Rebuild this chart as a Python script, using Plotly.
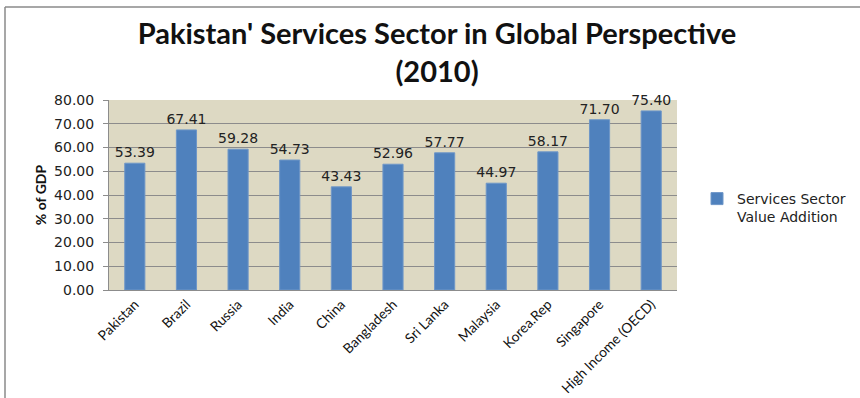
import plotly.graph_objects as go

countries = ["Pakistan", "Brazil", "Russia", "India", "China", "Bangladesh",
             "Sri Lanka", "Malaysia", "Korea.Rep", "Singapore", "High Income (OECD)"]
services_share = [53.39, 67.41, 59.28, 54.73, 43.43, 52.96, 57.77, 44.97, 58.17, 71.70, 75.40]
y_ticks = [0, 10, 20, 30, 40, 50, 60, 70, 80]

W, H = 860, 398
L, R, T, B = 109, 183, 100, 108
pw, ph = W - L - R, H - T - B


def px_x(x):
    return (x - L) / pw


def px_y(y):
    return (H - B - y) / ph


fig = go.Figure()
fig.add_trace(go.Bar(
    x=countries,
    y=services_share,
    name="Services Sector<br>Value Addition",
    marker=dict(color="#4F81BD", line=dict(color="#6F97C8", width=1)),
    texttemplate="%{y:.2f}",
    textposition="outside",
    constraintext="none",
    textfont=dict(family="DejaVu Sans", size=14, color="#222222"),
    cliponaxis=False,
))

fig.update_layout(
    width=W, height=H,
    margin=dict(l=L, r=R, t=T, b=B, pad=0, autoexpand=False),
    paper_bgcolor="white",
    plot_bgcolor="#DDD9C3",
    bargap=0.61,
    showlegend=True,
    title=dict(
        text="<b>Pakistan' Services Sector in Global Perspective<br>(2010)</b>",
        x=437 / W, xanchor="center",
        y=1 - 44 / H, yanchor="middle",
        font=dict(family="Lato", size=29, color="#111111"),
        automargin=False,
    ),
    legend=dict(
        x=px_x(697), y=px_y(183), xanchor="left", yanchor="top",
        valign="top",
        font=dict(family="DejaVu Sans", size=14, color="#222222"),
        bgcolor="rgba(0,0,0,0)", itemwidth=30,
    ),
    xaxis=dict(
        tickangle=-45,
        tickfont=dict(family="Lato", size=13.8, color="#111111"),
        showline=True, linecolor="#8C8C8C", linewidth=1,
        ticks="", showgrid=False, automargin=False,
    ),
    yaxis=dict(
        range=[0, 80], tickvals=y_ticks, tickformat=".2f",
        tickfont=dict(family="DejaVu Sans", size=14, color="#222222"),
        ticklabelstandoff=6,
        showgrid=True, gridcolor="#8C8C8C", gridwidth=1,
        showline=True, linecolor="#8C8C8C", linewidth=1,
        ticks="outside", ticklen=5, tickcolor="#8C8C8C",
        zeroline=False, automargin=False,
        title=dict(text="<b>% of GDP</b>", font=dict(family="Lato", size=14, color="#111111"),
                   standoff=4),
    ),
    shapes=[
        dict(type="line", xref="paper", yref="paper",
             x0=px_x(5), x1=px_x(W), y0=px_y(7), y1=px_y(7),
             line=dict(color="#8A8A8A", width=1.5)),
        dict(type="line", xref="paper", yref="paper",
             x0=px_x(5), x1=px_x(5), y0=px_y(7), y1=px_y(H),
             line=dict(color="#8A8A8A", width=1.5)),
    ],
)

fig.write_html("out.html")
